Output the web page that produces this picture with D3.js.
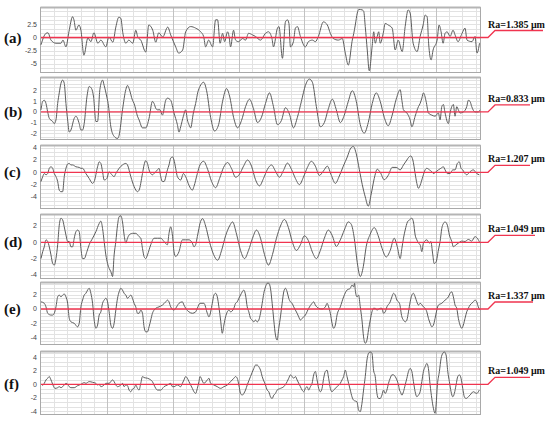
<!DOCTYPE html>
<html><head><meta charset="utf-8">
<script src="https://cdn.jsdelivr.net/npm/d3@7"></script>
<style>body{margin:0;background:#fff}</style>
</head><body><svg id="c" width="550" height="421"></svg>
<script>
const panelLabels = ["(a)","(b)","(c)","(d)","(e)","(f)"];
const raLabels = ["Ra=1.385 μm","Ra=0.833 μm","Ra=1.207 μm","Ra=1.049 μm","Ra=1.337 μm","Ra=1.049 μm"];
const ticksA = ["2.5","0","-2.5","-5"];
const ticksB = ["2","1","0","-1","-2"];
const ticksC = ["4","2","0","-2","-4"];
const ticksD = ["2","0","-2","-4"];
const ticksE = ["2","0","-2","-4"];
const ticksF = ["4","2","0","-2","-4"];
const domainA = [-6.63, 5.67], domainB = [-2.55, 3.2], domainC = [-5.8, 4.28];
const domainD = [-4.38, 3.35], domainE = [-4.9, 3.64], domainF = [-4.4, 4.79];
const profileLength = [0, 440];

const profileA = [[0,-1.4],[5,0.8],[7,0.9],[10,-0.5],[15,-1.1],[20,-1.1],[22,-0.5],[25,-1.8],[28,1.1],[31.7,4.0],[33,3.4],[35,1.4],[38,2.4],[40,1.4],[43,-3.4],[47,-0.1],[50,-0.8],[53,0.9],[57,-1.1],[60,-0.5],[65,-1.8],[68,0.1],[72,-0.9],[75,2.0],[78,3.9],[80,3.7],[82,0.9],[85,-1.1],[88,-0.5],[92,-1.1],[95,1.4],[97,0.1],[100,-0.5],[105,-2.8],[108,2.4],[112,1.4],[115,-0.9],[118,0.9],[122,0.1],[127,2.0],[130,0.5],[135,-1.8],[138,-3.0],[142,-2.4],[145,1.1],[150,2.1],[155,1.8],[160,1.1],[163,0.2],[165,-1.8],[168,-0.5],[172,-1.8],[175,3.4],[177,3.4],[179.5,-1.1],[182,0.8],[184,-0.8],[187,1.1],[188.5,0.2],[190,-1.8],[193,1.4],[195,-0.5],[198,-0.8],[202,-0.2],[205,-0.5],[208,0.8],[212,0.5],[215,0.2],[220,-0.5],[225,0.8],[228,1.1],[231.5,-0.2],[233,-1.8],[237,1.8],[238.5,2.1],[242,-4.0],[245,3.0],[247,3.4],[248.5,2.7],[250,-1.8],[253,-0.8],[255,1.8],[257,2.1],[260,0.2],[265,-1.8],[268,-0.8],[272,-0.5],[275,-0.8],[278,0.2],[283,3.0],[287,2.4],[290,0.8],[293,-0.2],[298,-0.5],[302,-0.2],[305,-3.0],[308,-5.3],[312,-0.5],[313.5,0.8],[315,2.4],[317,4.7],[318.5,5.4],[322,5.3],[323.5,5.0],[325,2.1],[327,-2.4],[329,-6.4],[332,-1.5],[333.5,1.1],[335,-1.1],[337,0.2],[338.5,1.1],[340,-1.1],[343,0.8],[345,2.7],[348,2.4],[352,1.8],[355,-2.4],[358,-0.5],[362,-2.7],[365,2.1],[368,5.3],[370,4.7],[373,-1.1],[377,-2.7],[380,0.2],[383,2.4],[385,4.3],[387,4.0],[388.5,-1.1],[391,-4.3],[393,-2.4],[397,-0.5],[399,2.4],[401,1.1],[403,-1.1],[405,0.8],[407,1.1],[410,0.2],[413,1.4],[415,0.5],[418,-0.8],[422,0.8],[425,1.8],[427,-0.5],[432,-0.8],[435,0.2],[437,-3.0],[439.5,-1.1]];

const profileB = [[0,0.2],[1.7,1.0],[3.3,1.1],[5,0.8],[6.7,0.0],[8.3,-0.6],[11.7,-0.9],[13.3,-1.1],[15,-0.75],[16.7,0.8],[18.3,1.8],[20,2.7],[21.7,3.0],[23.3,2.7],[25,0.8],[26.7,-0.75],[28.3,-1.9],[30,-1.7],[33.3,-0.6],[35,-0.4],[38.3,-1.1],[40,-1.7],[41.7,-1.7],[43.3,-1.1],[46,1.4],[48.3,2.4],[50.7,2.2],[52.7,1.4],[55,-0.9],[56.7,-0.9],[59,2.1],[61.7,3.0],[63.3,2.5],[66,1.4],[67.3,0.8],[70,-1.4],[73.3,-2.3],[76.7,-2.5],[78.3,-2.2],[81.7,0.2],[85,2.1],[86.7,2.5],[88.3,2.2],[91.7,1.1],[93.3,0.8],[96.7,-0.4],[98.3,-0.75],[101.7,-1.5],[105,-1.5],[108.3,-0.6],[111.7,1.0],[113.3,0.8],[115,0.35],[116.7,0.2],[119.3,0.2],[121.7,-0.3],[125,1.1],[126.7,1.3],[130,1.1],[133.3,-0.1],[136.7,-1.2],[138.3,-1.9],[140,-1.4],[142.7,-0.4],[145,0.2],[146.7,-0.75],[148.3,-1.2],[150,-1.5],[152.7,-0.1],[155,0.8],[157.3,1.9],[159.3,2.4],[163,2.8],[166,2.0],[170,-0.5],[174,-1.8],[178,-1.2],[182,1.0],[186,2.2],[189,1.5],[193,-0.5],[197,-1.5],[201,-0.8],[205,0.5],[209,1.2],[213,0.3],[217,-1.0],[221,-0.5],[225,0.8],[229,1.8],[233,0.5],[237,-1.2],[241,-0.8],[245,0.4],[249,-0.2],[253,-1.5],[257,-0.5],[261,1.0],[265,2.5],[269,3.1],[272,2.8],[276,0.5],[280,-1.4],[284,-1.0],[288,0.3],[292,1.2],[296,0.2],[300,-1.0],[304,-0.3],[308,1.0],[312,2.0],[316,1.0],[320,-1.2],[324,-2.0],[328,-1.0],[332,0.8],[336,1.8],[340,1.0],[344,-0.5],[348,-1.3],[352,-0.3],[356,1.2],[360,2.1],[361.7,1.1],[363.3,0.2],[366.7,-0.1],[370,-0.75],[371.7,-1.4],[375,-0.4],[378.3,0.5],[380,0.8],[381.7,1.3],[383.3,1.8],[386,1.0],[388.3,-0.1],[391.7,-0.3],[395,-0.4],[398.3,-0.1],[400,-0.75],[401.7,0.5],[403.3,0.7],[405,-0.1],[408.3,-1.1],[410,-0.1],[411.7,0.5],[413.3,0.7],[415,-0.4],[416.7,0.5],[418.3,0.2],[420,-0.1],[423.3,0.0],[426.7,0.5],[428.3,1.1],[430,1.0],[431.7,0.5],[435,0.0],[438.3,0.0],[440,0.2]];

const profileC = [[0,-1.5],[1.7,-0.7],[3.3,-0.2],[5,-0.4],[6.7,-0.2],[8.3,0.65],[10,0.9],[11.7,0.65],[13.3,-0.2],[15,-0.7],[16.7,-1.5],[18.3,-2.9],[20,-3.15],[21.7,-3.15],[23.3,-0.7],[25,0.65],[26.7,1.35],[28.3,1.45],[30,1.2],[31.7,1.2],[35,0.9],[38.3,0.8],[40,0.65],[41.7,0.65],[45,-0.2],[48.3,-1.0],[51.7,-1.8],[53.3,-1.5],[56.7,0.9],[58.3,1.7],[60,1.45],[61.7,0.1],[63.3,-1.25],[66,-1.0],[68.3,0.1],[70,-0.2],[73.3,-0.7],[75,-0.2],[78.3,0.65],[81.7,1.2],[85,1.45],[86.7,1.2],[90,-0.7],[93.3,-2.3],[96.7,-3.15],[98.3,-2.9],[101.7,-0.2],[103.3,1.2],[105,1.9],[106.7,1.45],[108.3,0.4],[110,-0.2],[111.7,-0.4],[113.3,-0.2],[115,0.1],[116.7,0.4],[118.3,0.65],[120,-0.7],[121.7,-1.5],[123.3,-1.5],[126.7,0.4],[128.3,1.2],[130,2.3],[131.7,2.5],[133.3,2.0],[135,0.65],[136.7,-0.7],[140,-1.25],[142.7,-0.2],[145,-0.7],[148.3,-2.1],[151.7,-2.9],[153.3,-2.3],[156.7,-0.2],[159.3,1.2],[163,1.8],[167,0.5],[171,-1.5],[175,-2.5],[179,-1.0],[183,0.8],[187,1.6],[191,0.6],[195,-0.8],[199,-0.3],[203,1.0],[207,2.0],[211,1.0],[215,-1.2],[219,-2.2],[223,-1.0],[227,0.5],[231,1.2],[235,0.2],[239,-0.8],[243,0.3],[247,1.5],[251,0.5],[255,-1.0],[259,-2.0],[263,-0.8],[267,0.8],[271,1.8],[275,1.0],[279,-0.5],[283,0.2],[287,1.0],[291,-0.5],[295,-1.8],[299,-0.6],[303,1.0],[307,2.5],[310,3.8],[313,4.2],[316,3.0],[319,0.5],[322,-2.0],[325,-4.0],[328,-5.5],[331,-3.5],[334,-1.0],[337,0.5],[340,0.0],[344,-1.2],[348,-0.5],[352,0.8],[356,0.8],[360,0.4],[363.3,1.2],[366.7,2.0],[368.3,2.4],[370.7,2.65],[372.7,2.0],[375,-0.2],[376.7,-1.8],[378.3,-2.6],[380,-2.1],[382.7,-0.7],[385,0.4],[386.7,0.65],[389.3,0.4],[391.7,0.1],[393.3,-0.2],[396,0.1],[398.3,0.4],[400.7,0.65],[403.3,0.9],[405,0.4],[407.3,-0.2],[410,-0.2],[412.7,0.4],[415,0.4],[417.3,1.45],[419.3,1.7],[421,0.65],[422.7,0.4],[425,-0.2],[426.7,-0.4],[430,0.1],[433.3,0.4],[436.7,-0.2],[439.3,-0.4]];

const profileD = [[0,-2.0],[1.7,-1.15],[3.3,-0.55],[5,0.3],[6.7,0.1],[8.3,-0.55],[10,-1.55],[11.7,-2.6],[13.3,-2.8],[15,-2.0],[16.7,-0.3],[18.3,2.1],[20,2.95],[21.7,2.75],[23.3,1.9],[25,0.9],[26.7,0.1],[28.3,0.1],[30,-0.55],[31.7,-0.55],[33.3,0.5],[35,1.3],[36.7,1.5],[38.3,1.3],[40,-0.75],[41.7,-2.0],[43.3,-2.0],[46,-1.15],[48.3,-0.3],[51.7,0.5],[55,1.3],[58.3,2.3],[60,2.6],[61.7,1.7],[63.3,0.1],[65,-1.55],[66.7,-2.6],[68.3,-3.2],[70,-3.6],[71.7,-4.2],[73.3,-1.55],[75,0.1],[76.7,2.1],[78.3,3.15],[80,3.25],[81.7,2.5],[83.3,0.9],[85,-0.1],[86.7,0.5],[88.3,0.9],[91.7,1.1],[95,1.1],[98.3,0.7],[100,0.5],[101.7,-0.75],[103.3,-1.75],[105,-2.0],[106.7,-1.55],[110,-0.3],[113.3,0.5],[116.7,0.5],[120,0.5],[123.3,0.1],[126.7,-0.3],[128.3,1.1],[130,1.9],[131.7,0.9],[133.3,-1.15],[135,-1.75],[136.7,-1.55],[138.3,-1.15],[141.7,0.3],[145,0.3],[148.3,0.3],[151.7,-0.1],[153.3,-0.55],[155,-0.3],[156.7,0.7],[158.3,1.7],[159.3,2.3],[162,2.9],[165,2.0],[169,0.0],[173,-1.5],[177,-2.2],[181,-1.0],[185,0.8],[189,2.0],[192,2.5],[196,1.0],[200,-1.0],[204,-2.0],[208,-1.0],[212,0.5],[216,1.5],[220,0.5],[224,-1.5],[228,-2.8],[232,-1.5],[236,0.5],[240,2.0],[244,2.8],[248,1.8],[252,0.0],[256,-1.0],[260,-0.3],[264,0.8],[268,0.2],[272,-1.2],[276,-2.0],[280,-1.0],[284,0.5],[288,1.5],[292,0.8],[296,-0.5],[300,0.3],[304,1.5],[308,2.5],[311,2.2],[314,0.5],[317,-2.5],[320,-4.2],[323,-3.0],[326,-0.5],[330,1.0],[334,1.8],[338,0.8],[342,-0.8],[346,-1.8],[350,-1.0],[354,0.5],[357,-0.5],[360,-2.0],[361.7,-0.75],[363.3,0.5],[365,1.5],[367.3,2.5],[369.3,2.75],[371.7,2.95],[373.3,2.5],[375,0.9],[376.7,0.3],[378.3,-0.1],[380,-0.3],[381.7,-1.15],[383.3,-0.1],[386.7,0.3],[389.3,-0.1],[390.7,0.1],[392.7,-1.55],[394,-2.6],[396,-2.4],[398.3,-0.95],[400,0.1],[401.7,1.7],[403.3,2.3],[405,2.5],[407.3,2.1],[409.3,0.9],[411.7,0.1],[413.3,-0.55],[416,-0.3],[418.3,-0.1],[421.7,0.15],[425,0.1],[428.3,0.35],[431.7,0.15],[435,0.7],[437.3,0.5],[440,-0.1]];

const profileE = [[0,1.0],[3.3,0.8],[5,0.3],[6.7,-0.6],[10,-0.85],[11.7,-0.85],[13.3,-0.6],[15,0.3],[16.7,1.7],[18.3,1.95],[20,1.7],[21.7,1.95],[23.3,2.1],[25,1.7],[26.7,0.8],[28.3,-1.3],[30,-1.8],[33.3,-2.0],[36.7,-2.5],[38.3,-2.0],[40,0.3],[41.7,1.25],[43.3,1.95],[45,2.2],[46.7,2.65],[48.3,2.9],[50,2.2],[51.7,0.8],[53.3,-1.55],[55,-2.7],[56.7,-2.25],[58.3,-0.85],[60,-0.4],[61.7,0.8],[63.3,1.25],[65,1.5],[66.7,1.0],[68.3,-0.4],[70,-2.25],[71.7,-2.7],[73.3,-2.0],[75,-0.15],[76.7,1.5],[78.3,2.4],[80,2.9],[81.7,2.65],[83.3,2.2],[85,1.95],[86.7,1.5],[88.3,1.7],[90,1.95],[91.7,1.5],[93.3,0.8],[95,0.3],[96.7,-0.6],[98.3,-0.6],[100,-0.15],[101.7,-0.6],[103.3,-2.5],[105,-3.2],[106.7,-3.2],[108.3,-2.5],[110,-1.55],[111.7,-0.6],[113.3,-0.15],[115,0.1],[118.3,0.3],[121.7,0.55],[125,1.0],[126.7,1.25],[128.3,1.0],[130,0.3],[133.3,-0.15],[135,0.1],[138.3,0.8],[141.7,1.0],[143.3,0.55],[145,0.1],[148.3,-0.4],[151.7,-0.6],[155,-0.4],[156.7,0.1],[159.3,0.8],[163.3,0.8],[166.7,-0.6],[168.3,-1.1],[171.7,0.8],[173.3,1.95],[175,2.2],[176.7,1.7],[178.3,0.3],[180,-1.55],[181.7,-3.4],[183.3,-2.25],[185,-1.1],[186.7,-0.4],[188.3,-0.15],[190,-0.4],[193.3,0.1],[195,0.8],[196.7,1.0],[198.3,1.5],[200,1.95],[201.7,2.4],[203.3,2.65],[205,1.95],[206.7,0.3],[208.3,-0.4],[210,-1.3],[211.7,-1.55],[213.3,-1.8],[215,-1.55],[216.7,-1.8],[218.3,-1.55],[220,-0.6],[221.7,0.8],[223.3,2.2],[225,3.1],[226.7,3.6],[228.3,3.6],[230,2.9],[231.7,0.8],[233.3,-1.55],[235,-3.65],[236.7,-4.35],[238.3,-2.7],[240,-1.1],[241.7,0.8],[243.3,2.4],[245,2.9],[246.7,2.4],[248.3,1.5],[250,1.0],[251.7,0.8],[253.3,0.3],[256.7,-0.6],[258.3,-1.1],[260,-1.55],[261.7,-1.3],[265,-0.85],[268.3,0.1],[271.7,0.8],[273.3,1.0],[275,0.55],[278.3,0.1],[281.7,0.0],[285,0.3],[286.7,0.8],[288.3,0.3],[290,-0.6],[291.7,-2.0],[293.3,-2.7],[295,-2.25],[296.7,-0.85],[300,0.3],[303.3,1.7],[306.7,2.65],[310,2.9],[311.7,3.35],[313.3,3.1],[314.3,3.6],[315,2.65],[316.7,1.7],[318.3,1.95],[320,0.3],[321.7,-1.55],[323.3,-3.9],[325,-4.8],[326.7,-4.35],[328.3,-2.9],[330,-1.55],[331.7,-0.4],[333.3,0.1],[335,0.1],[336.7,-0.15],[340,0.1],[341.7,0.1],[343.3,-0.6],[345,-0.4],[346.7,0.3],[350,1.0],[351.7,1.7],[353.3,2.2],[355,1.95],[356.7,1.25],[359.3,0.8],[361.7,-1.1],[363.3,-1.55],[365,-1.8],[366.7,-1.55],[368.3,-0.4],[370,1.0],[371.7,1.95],[373.3,2.2],[375,1.7],[376.7,1.0],[378.3,0.55],[380,0.8],[383.3,0.3],[385,0.1],[386.7,-0.4],[388.3,-1.3],[390,-2.0],[391.7,-2.5],[393.3,-2.25],[395,-1.3],[396.7,-0.15],[398.3,0.55],[401.7,0.8],[405,1.25],[408.3,1.7],[410,2.2],[411.7,2.4],[413.3,1.7],[415,0.55],[416.7,0.1],[418.3,-1.3],[420,-2.25],[421.7,-2.7],[423.3,-2.25],[425,-1.3],[426.7,-0.4],[428.3,0.1],[430,0.55],[431.7,0.8],[433.3,1.0],[435,1.25],[436.7,1.0],[438.3,0.3],[440,-0.15]];

const profileF = [[1.5,-0.2],[3.3,0.15],[5,0.65],[6.7,0.9],[8.3,1.15],[9.3,0.9],[10.7,0.4],[12.7,-0.35],[14,-0.6],[16.7,-0.5],[18.3,-0.35],[20,-0.5],[23.3,-0.1],[25,0.15],[26.7,0.0],[28.3,-0.35],[30,-0.5],[33.3,-0.5],[36.7,-0.2],[40,0.0],[43.3,0.25],[45,0.15],[48.3,0.4],[51.7,0.3],[55,0.15],[56.7,-0.1],[58.3,0.0],[60,-0.35],[63.3,-0.1],[65,0.15],[68.3,0.15],[71.7,0.65],[73.3,0.4],[75,-0.1],[76.7,-0.35],[80,-0.1],[81.7,0.15],[83.3,-0.35],[85,-0.1],[86.7,-0.2],[88.3,-0.85],[90,-1.1],[91.7,-0.7],[93.3,-0.6],[95,-0.1],[96.7,-0.6],[98.3,-0.85],[100,0.15],[101.7,1.15],[103.3,1.0],[106.7,0.9],[110,0.65],[111.7,0.4],[113.3,-0.1],[115,-0.6],[116.7,-0.85],[120,-0.85],[123.3,-0.35],[126.7,-0.1],[130,0.15],[131.7,-0.35],[133.3,-0.35],[136.7,-0.1],[140,-0.35],[141.7,0.15],[143.3,0.65],[145,1.15],[146.7,0.9],[148.3,0.4],[150,-0.1],[151.7,-0.6],[153.3,-1.1],[155,-1.35],[156.7,-0.6],[158.3,0.4],[159.3,1.15],[163.3,0.15],[166.7,0.65],[168.3,0.9],[170,0.15],[173.3,-0.1],[176.7,-0.35],[180,-0.6],[183.3,-0.35],[186.7,-0.1],[190,0.4],[193.3,0.9],[195,1.15],[196.7,0.9],[198.3,-0.1],[200,-1.35],[201.7,-1.6],[203.3,-1.35],[205,-0.85],[206.7,-0.1],[210,1.15],[213.3,2.35],[215,2.85],[216.7,2.85],[218.3,2.6],[220,2.1],[221.7,1.15],[225,-0.1],[226.7,-0.85],[228.3,-1.1],[230,-1.85],[231.7,-2.1],[233.3,-1.6],[235,-1.35],[236.7,-0.85],[240,-0.6],[243.3,-0.35],[246.7,0.4],[248.3,0.9],[250,1.4],[251.7,1.15],[253.3,0.9],[255,1.15],[256.7,0.65],[260,-0.35],[261.7,-0.85],[263.3,-1.1],[265,-0.6],[266.7,-0.35],[268.3,-0.85],[270,-0.35],[271.7,0.15],[273.3,1.4],[275,1.9],[276.7,0.65],[278.3,-0.6],[280,-1.1],[281.7,-0.6],[283.3,0.9],[285,1.9],[286.7,2.1],[288.3,0.9],[290,-0.6],[291.7,-1.1],[293.3,-0.85],[296.7,-0.35],[300,0.15],[301.7,0.65],[303.3,1.15],[305,2.1],[306.7,1.15],[308.3,0.15],[310,-0.85],[311.7,-1.85],[313.3,-2.35],[316.7,-2.6],[318.3,-3.8],[320,-4.05],[321.7,-2.8],[323.3,-0.85],[325,1.15],[326.7,3.6],[328.3,4.6],[330,4.8],[331.7,4.6],[333.3,2.1],[335,1.15],[336.7,-1.35],[338.3,-2.1],[340,-2.1],[341.7,-1.6],[343.3,-0.85],[345,-1.35],[346.7,-0.85],[348.3,0.15],[350,0.9],[351.7,1.4],[353.3,1.4],[355,1.15],[356.7,0.65],[358.3,-0.1],[359.3,-0.85],[360.2,-1.1],[361.7,-1.6],[363.3,-1.1],[365,-0.1],[366.7,0.9],[368.3,1.9],[370,2.35],[371.7,1.9],[373.3,0.4],[375,-1.1],[376.7,-1.85],[378.3,-1.6],[380,-1.1],[381.7,0.4],[383.3,1.9],[385,2.6],[386.7,3.1],[388.3,2.35],[390,-0.1],[391.7,-2.1],[393.3,-3.55],[395,-4.3],[396,-3.05],[397.3,-0.1],[399.3,1.9],[401,3.85],[402.7,4.6],[404.3,4.8],[406,4.35],[407.7,1.9],[409.3,0.4],[411,-1.1],[412.7,-1.85],[414.3,-1.35],[416,-0.1],[417.7,1.15],[419.3,1.4],[421,0.9],[422.7,-0.6],[424.3,-1.85],[426,-2.1],[428.3,-1.85],[430,-1.6],[433.3,-1.1],[436.7,-1.35],[439.3,-0.85]];

const profiles = [profileA, profileB, profileC, profileD, profileE, profileF];
const tickSets = [ticksA, ticksB, ticksC, ticksD, ticksE, ticksF];
const domains = [domainA, domainB, domainC, domainD, domainE, domainF];

// layout
const panelBoxes = [[8,72],[78,139],[146,208],[215,278],[283,344],[352,414]];
const plotLeft = 41, plotRight = 480;
const labelLineEnds = [543, 530, 530, 535, 533, 530];

const svg = d3.select("#c");
svg.append("rect").attr("width",550).attr("height",421).attr("fill","#fff");

const x = d3.scaleLinear().domain(profileLength).range([plotLeft, plotRight]);

profiles.forEach((prof, i) => {
  const [top, bot] = panelBoxes[i];
  const y = d3.scaleLinear().domain(domains[i]).range([bot, top]);
  const g = svg.append("g");
  const ticks = tickSets[i].map(Number);
  const tickStep = Math.abs(ticks[0]-ticks[1]);
  const tickPx = Math.abs(y(ticks[0]) - y(ticks[1]));
  const nSub = Math.max(2, Math.round(tickPx/4));
  const hStep = tickStep/nSub;
  const hLines = [];
  for (let v = Math.ceil(domains[i][0]/hStep)*hStep; v <= domains[i][1]; v += hStep) hLines.push(v);
  g.selectAll(".hg").data(hLines).enter().append("line")
    .attr("x1", plotLeft).attr("x2", plotRight)
    .attr("y1", d => Math.round(y(d))+0.5).attr("y2", d => Math.round(y(d))+0.5)
    .attr("stroke", "#e2e2e2").attr("stroke-width", 1);
  const vMinor = d3.range(13.2, 440, 13.2);
  g.selectAll(".vg").data(vMinor).enter().append("line")
    .attr("x1", d => Math.round(x(d))+0.5).attr("x2", d => Math.round(x(d))+0.5)
    .attr("y1", top).attr("y2", bot)
    .attr("stroke", d => (Math.abs(d/66 - Math.round(d/66)) < 0.01) ? "#c2c2c2" : "#e2e2e2")
    .attr("stroke-width", 1);
  g.append("rect").attr("x", plotLeft-0.5).attr("y", top-0.5)
    .attr("width", plotRight-plotLeft+1).attr("height", bot-top+1)
    .attr("fill", "none").attr("stroke", "#a9a9a9").attr("stroke-width", 1);
  g.append("line").attr("x1", plotLeft-0.5).attr("x2", plotRight+0.5)
    .attr("y1", top-0.5).attr("y2", top-0.5).attr("stroke", "#b5b5b5").attr("stroke-width", 2);
  g.selectAll(".tl").data(tickSets[i]).enter().append("text")
    .attr("x", 37).attr("y", d => y(+d)).attr("dy", "0.35em")
    .attr("text-anchor", "end")
    .attr("font-family", "Liberation Sans, Arial, sans-serif")
    .attr("font-size", 7).attr("fill", "#444")
    .text(d => d);
  const line = d3.line().x(d => x(d[0])).y(d => y(d[1])).curve(d3.curveMonotoneX);
  g.append("path").datum(prof).attr("d", line)
    .attr("fill", "none").attr("stroke", "#5c5c5c").attr("stroke-width", 1);
  const y0 = y(0);
  const leader = [[plotLeft, y0],[488, y0],[495, y0-7],[labelLineEnds[i], y0-7]];
  g.append("path").attr("d", d3.line()(leader))
    .attr("fill","none").attr("stroke","#f0344f").attr("stroke-width",1.3);
  g.append("text").attr("x", 488).attr("y", y0-10)
    .attr("font-family", "Liberation Serif, Times New Roman, serif")
    .attr("font-weight", "bold").attr("font-size", 10).attr("fill", "#111")
    .text(raLabels[i]);
  g.append("text").attr("x", 4).attr("y", y0+5)
    .attr("font-family", "Liberation Serif, Times New Roman, serif")
    .attr("font-weight", "bold").attr("font-size", 15).attr("fill", "#111")
    .text(panelLabels[i]);
});
</script>
</body></html>
